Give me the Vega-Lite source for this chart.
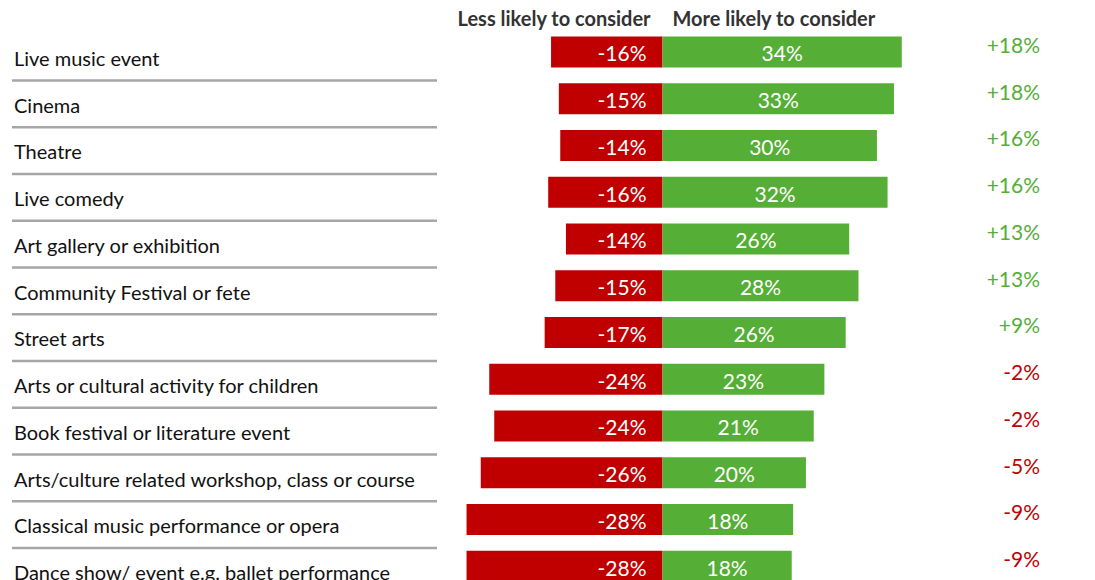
{
  "$schema": "https://vega.github.io/schema/vega-lite/v6.json",
  "width": 1095,
  "height": 561,
  "autosize": "none",
  "padding": {"top": 28.6, "left": 0, "right": 0, "bottom": 0},
  "background": "white",
  "config": {
    "view": {"stroke": null},
    "font": "Lato",
    "locale": {"number": {"decimal": ".", "thousands": ",", "grouping": [3], "currency": ["$", ""], "minus": "-"}}
  },
  "data": {
    "values": [
      {"cat": "Live music event", "less": -0.157, "more": 0.337, "net": 0.18},
      {"cat": "Cinema", "less": -0.146, "more": 0.326, "net": 0.18},
      {"cat": "Theatre", "less": -0.144, "more": 0.302, "net": 0.16},
      {"cat": "Live comedy", "less": -0.161, "more": 0.317, "net": 0.16},
      {"cat": "Art gallery or exhibition", "less": -0.136, "more": 0.263, "net": 0.13},
      {"cat": "Community Festival or fete", "less": -0.151, "more": 0.276, "net": 0.13},
      {"cat": "Street arts", "less": -0.166, "more": 0.258, "net": 0.09},
      {"cat": "Arts or cultural activity for children", "less": -0.244, "more": 0.228, "net": -0.02},
      {"cat": "Book festival or literature event", "less": -0.237, "more": 0.213, "net": -0.02},
      {"cat": "Arts/culture related workshop, class or course", "less": -0.256, "more": 0.202, "net": -0.05},
      {"cat": "Classical music performance or opera", "less": -0.276, "more": 0.184, "net": -0.09},
      {"cat": "Dance show/ event e.g. ballet performance", "less": -0.276, "more": 0.182, "net": -0.09}
    ]
  },
  "encoding": {
    "y": {"field": "cat", "type": "nominal", "sort": null, "axis": null, "scale": {"paddingInner": 0, "paddingOuter": 0}}
  },
  "resolve": {"scale": {"x": "independent"}, "axis": {"x": "independent"}},
  "layer": [
    {
      "transform": [{"filter": "datum.cat !== 'Dance show/ event e.g. ballet performance'"}],
      "mark": {"type": "rule", "color": "#A6A6A6", "strokeWidth": 2.5, "yOffset": 5.2},
      "encoding": {
        "x": {"datum": -0.9162, "type": "quantitative", "scale": {"domain": [-0.9331, 0.60915], "nice": false},
          "axis": {"orient": "top", "values": [-0.0176, 0.0134], "labelExpr": "datum.value < 0 ? 'Less likely to consider' : 'More likely to consider'", "labelAlign": {"condition": {"test": "datum.value < 0", "value": "right"}, "value": "left"}, "labelBaseline": "alphabetic", "labelPadding": 2.6, "ticks": false, "tickSize": 0, "domain": false, "grid": false, "title": null, "labelFont": "Lato", "labelFontWeight": "bold", "labelFontSize": 20, "labelColor": "#333333", "labelFlush": false, "labelOverlap": false, "labelBound": false, "labelLimit": 0}},
        "x2": {"datum": -0.3176},
        "y": {"field": "cat", "type": "nominal", "sort": null, "bandPosition": 1, "axis": null}
      }
    },
    {
      "mark": {"type": "text", "align": "left", "baseline": "alphabetic", "dy": 14, "fontSize": 20, "color": "#111111"},
      "encoding": {
        "x": {"datum": -0.9134, "type": "quantitative", "scale": {"domain": [-0.9331, 0.60915], "nice": false}, "axis": null},
        "text": {"field": "cat"}
      }
    },
    {
      "mark": {"type": "bar", "color": "#C00000", "height": {"band": 0.66}},
      "encoding": {
        "x": {"field": "less", "type": "quantitative", "scale": {"domain": [-0.9331, 0.60915], "nice": false}, "axis": null}
      }
    },
    {
      "mark": {"type": "bar", "color": "#55AE35", "height": {"band": 0.66}},
      "encoding": {
        "x": {"field": "more", "type": "quantitative", "scale": {"domain": [-0.9331, 0.60915], "nice": false}, "axis": null}
      }
    },
    {
      "mark": {"type": "text", "align": "right", "baseline": "alphabetic", "dy": 9.5, "dx": -16, "fontSize": 21, "color": "white"},
      "encoding": {
        "x": {"datum": 0, "type": "quantitative", "scale": {"domain": [-0.9331, 0.60915], "nice": false}, "axis": null},
        "text": {"field": "less", "format": ".0%"}
      }
    },
    {
      "mark": {"type": "text", "align": "center", "baseline": "alphabetic", "dy": 9.5, "fontSize": 21, "color": "white"},
      "encoding": {
        "x": {"field": "more", "type": "quantitative", "scale": {"domain": [-1.8662, 1.2183], "nice": false, "zero": false}, "axis": null},
        "text": {"field": "more", "format": ".0%"}
      }
    },
    {
      "mark": {"type": "text", "align": "right", "baseline": "alphabetic", "dy": 1, "fontSize": 21},
      "encoding": {
        "x": {"datum": 0.5317, "type": "quantitative", "scale": {"domain": [-0.9331, 0.60915], "nice": false}, "axis": null},
        "text": {"field": "net", "format": "+.0%"},
        "color": {"condition": {"test": "datum.net < 0", "value": "#C00000"}, "value": "#55AE35"}
      }
    }
  ]
}
